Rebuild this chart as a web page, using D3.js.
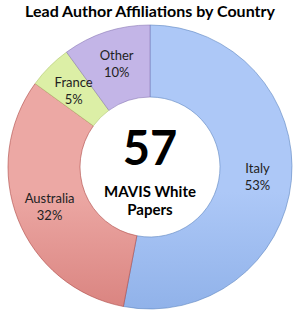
<!DOCTYPE html>
<html>
<head>
<meta charset="utf-8">
<script src="https://cdn.jsdelivr.net/npm/d3@7"></script>
<style>
  body { margin: 0; background: #fff; }
  svg { display: block; }
</style>
</head>
<body>
<script>
// data
var countries = ["Italy", "Australia", "France", "Other"];
var shares = [53, 32, 5, 10];   // percent of papers
var totalPapers = 57;
var topColors = ["#adc8f7", "#eca8a4", "#dcefa6", "#c3b5e7"];
var bottomColors = ["#6893d6", "#c0504d", "#c6df80", "#9887ca"];

var width = 300, height = 319;
var cx = 150, cy = 167;
var outerR = 142, innerR = 70;

var svg = d3.select('body')
            .append('svg')
            .attr('width', width)
            .attr('height', height);

var data = countries.map((c, i) => ({ name: c, value: shares[i], i: i }));

var defs = svg.append('defs');
data.forEach((d) => {
  var g = defs.append('linearGradient')
    .attr('id', 'grad' + d.i)
    .attr('gradientUnits', 'userSpaceOnUse')
    .attr('x1', 0).attr('x2', 0)
    .attr('y1', cy - outerR).attr('y2', cy + outerR);
  g.append('stop').attr('offset', '0%').attr('stop-color', topColors[d.i]);
  g.append('stop').attr('offset', '100%').attr('stop-color', bottomColors[d.i]);
});

var pie = d3.pie()
            .sort(null)
            .value((d) => d.value);

var arc = d3.arc()
            .innerRadius(innerR)
            .outerRadius(outerR);

var labelArc = d3.arc()
            .innerRadius(108)
            .outerRadius(108);

var chart = svg.append('g')
               .attr('transform', 'translate(' + cx + ',' + cy + ')');

chart.selectAll('path')
  .data(pie(data))
  .enter()
  .append('path')
  .attr('d', arc)
  .attr('fill', (d) => 'url(#grad' + d.data.i + ')')
  .attr('stroke', (d) => d3.color(bottomColors[d.data.i]).darker(0.3))
  .attr('stroke-width', 0.6);

var labels = chart.selectAll('.label')
  .data(pie(data))
  .enter()
  .append('text')
  .attr('class', 'label')
  .attr('transform', (d) => 'translate(' + labelArc.centroid(d) + ')')
  .attr('text-anchor', 'middle')
  .attr('font-family', 'Lato, sans-serif')
  .attr('font-size', 13)
  .attr('fill', '#222');

labels.append('tspan')
  .attr('x', 0)
  .attr('y', -4)
  .text((d) => d.data.name);

labels.append('tspan')
  .attr('x', 0)
  .attr('y', 13)
  .text((d) => d.data.value + '%');

// centre text
chart.append('text')
  .attr('text-anchor', 'middle')
  .attr('y', -2)
  .attr('font-family', 'Lato, sans-serif')
  .attr('font-weight', 'bold')
  .attr('font-size', 47)
  .attr('fill', '#000')
  .text(totalPapers);

chart.append('text')
  .attr('text-anchor', 'middle')
  .attr('y', 30)
  .attr('font-family', 'Lato, sans-serif')
  .attr('font-weight', 'bold')
  .attr('font-size', 15)
  .attr('fill', '#000')
  .text('MAVIS White');

chart.append('text')
  .attr('text-anchor', 'middle')
  .attr('y', 48)
  .attr('font-family', 'Lato, sans-serif')
  .attr('font-weight', 'bold')
  .attr('font-size', 15)
  .attr('fill', '#000')
  .text('Papers');

svg.append('text')
  .attr('x', width / 2)
  .attr('y', 17)
  .attr('text-anchor', 'middle')
  .attr('font-family', 'Lato, sans-serif')
  .attr('font-weight', 'bold')
  .attr('font-size', 16)
  .attr('fill', '#000')
  .text('Lead Author Affiliations by Country');
</script>
</body>
</html>
